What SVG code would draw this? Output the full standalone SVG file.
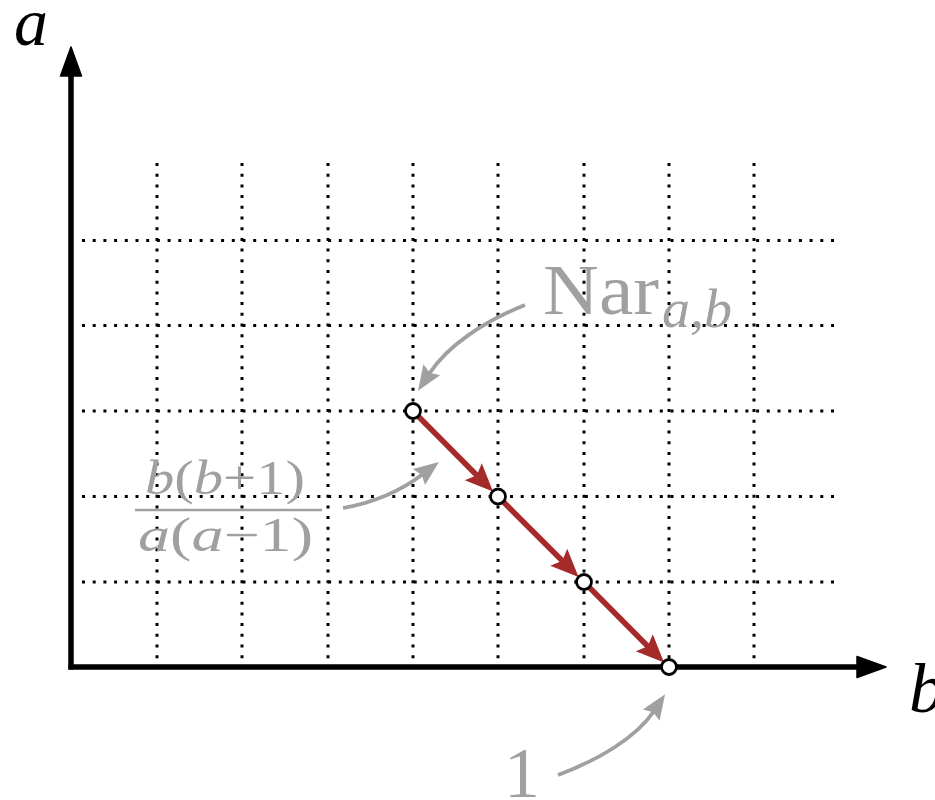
<svg xmlns="http://www.w3.org/2000/svg" width="935" height="800" viewBox="0 0 935 800">
<style>
.grid{stroke:#000;stroke-width:3;stroke-dasharray:3 7.7;fill:none}
.axis{stroke:#000;stroke-width:5.5;fill:none}
.red{stroke:#a52a2a;stroke-width:5.5;fill:none}
.gray{stroke:#a0a0a0;stroke-width:3.8;fill:none}
.pt{fill:#fff;stroke:#000;stroke-width:2.8}
.lbl{font-family:"Liberation Serif",serif;font-style:italic;fill:#000}
.gt{font-family:"Liberation Serif",serif;fill:#a0a0a0}
.it{font-style:italic}
</style>
<defs>
<marker id="axh" markerUnits="userSpaceOnUse" markerWidth="40" markerHeight="30" refX="4" refY="0" viewBox="0 -15 40 30" orient="auto" overflow="visible">
<path d="M0,-10.5 L29,0 L0,10.5 Z" fill="#000" stroke="#000" stroke-width="1.5" stroke-linejoin="round"/>
</marker>
<marker id="rh" markerUnits="userSpaceOnUse" markerWidth="34" markerHeight="28" refX="6" refY="0" viewBox="0 -14 34 28" orient="auto" overflow="visible">
<path d="M0,-12 L28,0 L0,12 L5,0 Z" fill="#a52a2a"/>
</marker>
<marker id="gh" markerUnits="userSpaceOnUse" markerWidth="30" markerHeight="24" refX="5" refY="0" viewBox="0 -12 30 24" orient="auto" overflow="visible">
<path d="M0,-10 L25,0 L0,10 L3.5,0 Z" fill="#a0a0a0"/>
</marker>
</defs>
<rect width="935" height="800" fill="#fff"/>
<g id="grid">
<line class="grid" x1="157" y1="163" x2="157" y2="667"/>
<line class="grid" x1="242" y1="163" x2="242" y2="667"/>
<line class="grid" x1="328" y1="163" x2="328" y2="667"/>
<line class="grid" x1="413" y1="163" x2="413" y2="667"/>
<line class="grid" x1="498" y1="163" x2="498" y2="667"/>
<line class="grid" x1="584" y1="163" x2="584" y2="667"/>
<line class="grid" x1="669" y1="163" x2="669" y2="667"/>
<line class="grid" x1="754" y1="163" x2="754" y2="667"/>
<line class="grid" x1="82" y1="240.5" x2="834" y2="240.5"/>
<line class="grid" x1="82" y1="325.5" x2="834" y2="325.5"/>
<line class="grid" x1="82" y1="411" x2="834" y2="411"/>
<line class="grid" x1="82" y1="496.5" x2="834" y2="496.5"/>
<line class="grid" x1="82" y1="582" x2="834" y2="582"/>
</g>
<g id="axes">
<line class="axis" x1="71" y1="669.5" x2="71" y2="72" marker-end="url(#axh)"/>
<line class="axis" x1="68.5" y1="667" x2="861" y2="667" marker-end="url(#axh)"/>
</g>
<g id="axis-labels">
<text class="lbl" x="14" y="45" font-size="68">a</text>
<text class="lbl" x="909" y="712" font-size="70">b</text>
</g>
<g id="connectors">
<line class="red" x1="413" y1="411" x2="477.5" y2="476" marker-end="url(#rh)"/>
<line class="red" x1="498" y1="496.5" x2="563" y2="561.5" marker-end="url(#rh)"/>
<line class="red" x1="584" y1="582" x2="648.5" y2="647" marker-end="url(#rh)"/>
<path class="gray" d="M525,305 C485,321 448,345 429,374" marker-end="url(#gh)"/>
<path class="gray" d="M343,508 C372,503 398,493 423,474" marker-end="url(#gh)"/>
<path class="gray" d="M558,775 C598,760 636,738 654,711" marker-end="url(#gh)"/>
</g>
<g id="p1"><circle class="pt" cx="413" cy="411" r="7.5"/></g>
<g id="p2"><circle class="pt" cx="498" cy="496.5" r="7.5"/></g>
<g id="p3"><circle class="pt" cx="584" cy="582" r="7.5"/></g>
<g id="p4"><circle class="pt" cx="669" cy="667" r="7.5"/></g>
<g id="label-nar">
<text class="gt" x="543" y="314" font-size="72" textLength="116" lengthAdjust="spacingAndGlyphs">Nar</text>
<text class="gt it" x="662" y="327" font-size="54" textLength="70" lengthAdjust="spacingAndGlyphs">a,b</text>
</g>
<g id="label-fraction">
<text class="gt" x="145" y="494" font-size="48" textLength="160" lengthAdjust="spacingAndGlyphs"><tspan class="it">b</tspan>(<tspan class="it">b</tspan>+1)</text>
<line x1="135" y1="510" x2="322" y2="510" stroke="#a0a0a0" stroke-width="2.6"/>
<text class="gt" x="138" y="551" font-size="48" textLength="175" lengthAdjust="spacingAndGlyphs"><tspan class="it">a</tspan>(<tspan class="it">a</tspan>−1)</text>
</g>
<g id="label-one">
<text class="gt" x="522" y="797" font-size="72" text-anchor="middle">1</text>
</g>
</svg>
